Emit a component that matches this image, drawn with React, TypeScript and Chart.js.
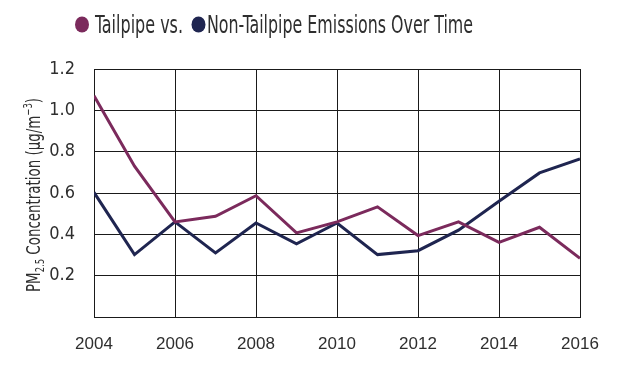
import React, { useEffect, useRef } from "react";
import { Chart, registerables } from "chart.js";

Chart.register(...registerables);

const years = [2004, 2005, 2006, 2007, 2008, 2009, 2010, 2011, 2012, 2013, 2014, 2015, 2016];
const tailpipe = [1.07, 0.73, 0.46, 0.487, 0.587, 0.407, 0.46, 0.533, 0.394, 0.46, 0.361, 0.434, 0.284];
const nonTailpipe = [0.603, 0.302, 0.46, 0.31, 0.455, 0.354, 0.455, 0.302, 0.321, 0.42, 0.56, 0.697, 0.765];
const xTicks = [2004, 2006, 2008, 2010, 2012, 2014, 2016];
const yTicks = [0.2, 0.4, 0.6, 0.8, 1.0, 1.2];

const PURPLE = "#7b2a5c";
const NAVY = "#1f2550";
const TEXT = "#2e2e2e";
const NARROW = '"Liberation Sans Narrow", "DejaVu Sans Condensed", sans-serif';

const titlePlugin = {
  id: "customTitle",
  afterDraw(chart: any) {
    const ctx = chart.ctx as CanvasRenderingContext2D;
    ctx.save();
    ctx.fillStyle = PURPLE;
    ctx.beginPath();
    ctx.ellipse(82, 24.5, 7, 8, 0, 0, Math.PI * 2);
    ctx.fill();
    ctx.fillStyle = NAVY;
    ctx.beginPath();
    ctx.ellipse(198.5, 24.5, 7, 8, 0, 0, Math.PI * 2);
    ctx.fill();

    ctx.fillStyle = TEXT;
    ctx.font = `24px ${NARROW}`;
    ctx.textBaseline = "alphabetic";
    ctx.textAlign = "left";
    const drawFit = (s: string, x: number, w: number) => {
      const m = ctx.measureText(s).width;
      ctx.save();
      ctx.translate(x, 33);
      ctx.scale(w / m, 1);
      ctx.fillText(s, 0, 0);
      ctx.restore();
    };
    drawFit("Tailpipe vs.", 95, 88);
    drawFit("Non-Tailpipe Emissions Over Time", 207, 266);

    // y-axis title with sub/superscripts
    ctx.save();
    ctx.translate(34, 195);
    ctx.rotate(-Math.PI / 2);
    const big = `19px ${NARROW}`;
    const small = `12px ${NARROW}`;
    const parts: [string, string, number][] = [
      ["PM", big, 0],
      ["2.5", small, 4],
      [" Concentration (µg/m", big, 0],
      ["−3", small, -8],
      [")", big, 0],
    ];
    let total = 0;
    for (const [t, f] of parts) {
      ctx.font = f;
      total += ctx.measureText(t).width;
    }
    const target = 194;
    ctx.scale(target / total, 1);
    let x = -total / 2;
    for (const [t, f, dy] of parts) {
      ctx.font = f;
      ctx.fillText(t, x, 6 + dy);
      x += ctx.measureText(t).width;
    }
    ctx.restore();
    ctx.restore();
  },
};

export default function App() {
  const ref = useRef<HTMLCanvasElement>(null);
  useEffect(() => {
    if (!ref.current) return;
    const chart = new Chart(ref.current, {
      type: "line",
      data: {
        datasets: [
          {
            label: "Tailpipe",
            data: years.map((y, i) => ({ x: y, y: tailpipe[i] })),
            borderColor: PURPLE,
            backgroundColor: PURPLE,
            borderWidth: 3,
            pointRadius: 0,
            tension: 0,
          },
          {
            label: "Non-Tailpipe",
            data: years.map((y, i) => ({ x: y, y: nonTailpipe[i] })),
            borderColor: NAVY,
            backgroundColor: NAVY,
            borderWidth: 3,
            pointRadius: 0,
            tension: 0,
          },
        ],
      },
      options: {
        responsive: false,
        animation: false,
        layout: { padding: { top: 69, right: 52, left: 0, bottom: 0 } },
        plugins: { legend: { display: false }, title: { display: false }, tooltip: { enabled: false } },
        scales: {
          x: {
            type: "linear",
            min: 2004,
            max: 2016,
            afterBuildTicks: (s: any) => {
              s.ticks = xTicks.map((v) => ({ value: v }));
            },
            afterFit: (s: any) => {
              s.height = 59;
            },
            grid: { color: "#1a1a1a", lineWidth: 1, drawTicks: false },
            border: { display: true, color: "#1a1a1a", width: 1 },
            ticks: {
              padding: 17,
              color: TEXT,
              font: { family: "Liberation Sans", size: 17 },
              maxRotation: 0,
              callback: (v: any) => String(v),
            },
          },
          y: {
            min: 0,
            max: 1.2,
            afterBuildTicks: (s: any) => {
              s.ticks = [0, ...yTicks].map((v) => ({ value: v }));
            },
            afterFit: (s: any) => {
              s.width = 94;
            },
            grid: { color: "#1a1a1a", lineWidth: 1, drawTicks: false },
            border: { display: true, color: "#1a1a1a", width: 1 },
            ticks: {
              padding: 19,
              color: TEXT,
              font: { family: NARROW, size: 18 },
              callback: (v: any) => (v === 0 ? "" : Number(v).toFixed(1)),
            },
          },
        },
      },
      plugins: [titlePlugin],
    } as any);
    return () => chart.destroy();
  }, []);
  return (
    <div style={{ position: "fixed", left: 0, top: 0, width: 632, height: 376, background: "#fff" }}>
      <canvas ref={ref} width={632} height={376} style={{ display: "block" }} />
    </div>
  );
}
